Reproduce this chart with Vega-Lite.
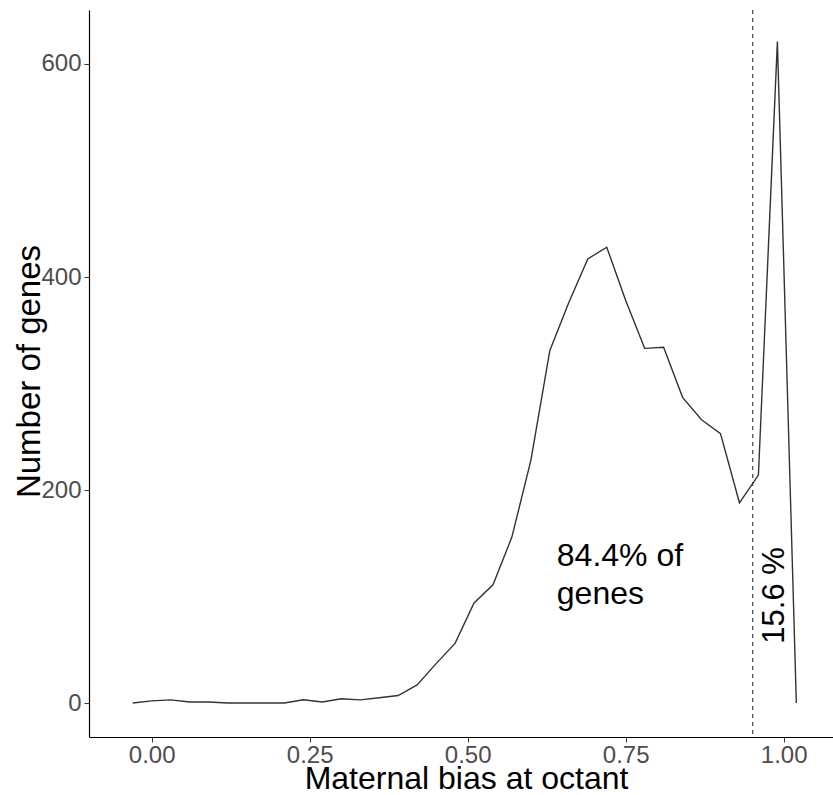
{
  "$schema": "https://vega.github.io/schema/vega-lite/v6.json",
  "width": 744,
  "height": 727,
  "autosize": {"type": "none"},
  "padding": {"left": 89, "top": 10, "right": 0, "bottom": 58},
  "background": "white",
  "config": {"view": {"stroke": null}, "font": "Liberation Sans"},
  "layer": [
    {
      "data": {"values": [
        {"bias": -0.03, "count": 0},
        {"bias": 0.0, "count": 2},
        {"bias": 0.03, "count": 3},
        {"bias": 0.06, "count": 1},
        {"bias": 0.09, "count": 1},
        {"bias": 0.12, "count": 0},
        {"bias": 0.15, "count": 0},
        {"bias": 0.18, "count": 0},
        {"bias": 0.21, "count": 0},
        {"bias": 0.24, "count": 3},
        {"bias": 0.27, "count": 1},
        {"bias": 0.30, "count": 4},
        {"bias": 0.33, "count": 3},
        {"bias": 0.36, "count": 5},
        {"bias": 0.39, "count": 7},
        {"bias": 0.42, "count": 17},
        {"bias": 0.45, "count": 37},
        {"bias": 0.48, "count": 56},
        {"bias": 0.51, "count": 94},
        {"bias": 0.54, "count": 111},
        {"bias": 0.57, "count": 156},
        {"bias": 0.60, "count": 228},
        {"bias": 0.63, "count": 331},
        {"bias": 0.66, "count": 376},
        {"bias": 0.69, "count": 417},
        {"bias": 0.72, "count": 428},
        {"bias": 0.75, "count": 378},
        {"bias": 0.78, "count": 333},
        {"bias": 0.81, "count": 334},
        {"bias": 0.84, "count": 287},
        {"bias": 0.87, "count": 266},
        {"bias": 0.90, "count": 253},
        {"bias": 0.93, "count": 188},
        {"bias": 0.96, "count": 214},
        {"bias": 0.99, "count": 621},
        {"bias": 1.02, "count": 0}
      ]},
      "mark": {"type": "line", "color": "#333333", "strokeWidth": 1.4},
      "encoding": {
        "x": {
          "field": "bias", "type": "quantitative",
          "scale": {"domain": [-0.0992, 1.078], "nice": false, "zero": false},
          "axis": {
            "values": [0, 0.25, 0.5, 0.75, 1], "format": ".2f", "grid": false,
            "labelFontSize": 24, "labelColor": "#4d4d4d", "labelPadding": 1,
            "tickColor": "#333333", "tickSize": 5, "domainColor": "#000000", "domainWidth": 1.2,
            "title": "Maternal bias at octant", "titleFontSize": 32, "titleFontWeight": "normal",
            "titleColor": "#000000", "titleX": 377, "titleY": 51, "titleBaseline": "alphabetic"
          }
        },
        "y": {
          "field": "count", "type": "quantitative",
          "scale": {"domain": [-31.9, 650.7], "nice": false, "zero": false},
          "axis": {
            "values": [0, 200, 400, 600], "grid": false,
            "labelFontSize": 24, "labelColor": "#4d4d4d", "labelPadding": 3,
            "tickColor": "#333333", "tickSize": 5, "domainColor": "#000000", "domainWidth": 1.2,
            "title": "Number of genes", "titleFontSize": 33, "titleFontWeight": "normal",
            "titleColor": "#000000", "titleX": -50, "titleY": 361, "titleBaseline": "alphabetic", "titleAngle": 270
          }
        }
      }
    },
    {
      "data": {"values": [{"cut": 0.951}]},
      "mark": {"type": "rule", "strokeDash": [4, 4], "color": "#333333", "strokeWidth": 1.1},
      "encoding": {"x": {"field": "cut", "type": "quantitative"}}
    },
    {
      "data": {"values": [{"x": 0.641, "y": 152, "label": ["84.4% of", "genes"]}]},
      "mark": {"type": "text", "align": "left", "baseline": "top", "fontSize": 32, "lineHeight": 38, "color": "#000000"},
      "encoding": {
        "x": {"field": "x", "type": "quantitative"},
        "y": {"field": "y", "type": "quantitative"},
        "text": {"field": "label"}
      }
    },
    {
      "data": {"values": [{"x": 0.987, "y": 101, "label": "15.6 %"}]},
      "mark": {"type": "text", "align": "center", "baseline": "middle", "angle": 270, "fontSize": 31, "color": "#000000"},
      "encoding": {
        "x": {"field": "x", "type": "quantitative"},
        "y": {"field": "y", "type": "quantitative"},
        "text": {"field": "label"}
      }
    }
  ]
}
